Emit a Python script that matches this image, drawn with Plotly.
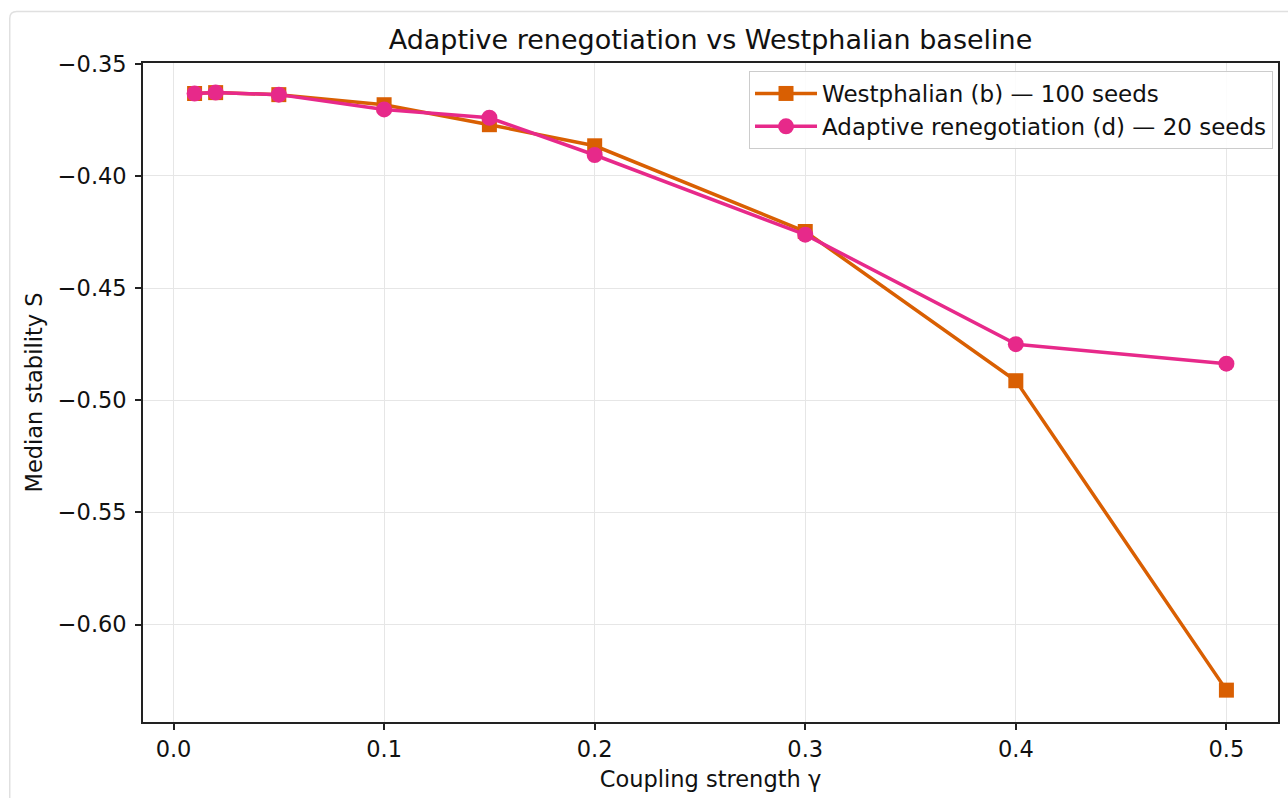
import plotly.graph_objects as go

# ---- data ----
gamma = [0.01, 0.02, 0.05, 0.10, 0.15, 0.20, 0.30, 0.40, 0.50]
westphalian = [-0.3633, -0.3629, -0.3638, -0.3683, -0.3772, -0.3866, -0.4248, -0.4913, -0.6292]
adaptive = [-0.3633, -0.3629, -0.3638, -0.3704, -0.3741, -0.3907, -0.4262, -0.4750, -0.4837]

series_names = ["Westphalian (b) \u2014 100 seeds", "Adaptive renegotiation (d) \u2014 20 seeds"]

x_tickvals = [0.0, 0.1, 0.2, 0.3, 0.4, 0.5]
x_ticktext = ["0.0", "0.1", "0.2", "0.3", "0.4", "0.5"]
y_tickvals = [-0.35, -0.40, -0.45, -0.50, -0.55, -0.60]
y_ticktext = ["\u22120.35", "\u22120.40", "\u22120.45", "\u22120.50", "\u22120.55", "\u22120.60"]

title_text = "Adaptive renegotiation vs Westphalian baseline"
x_title = "Coupling strength \u03b3"
y_title = "Median stability S"

ORANGE = "#d95f02"
PINK = "#e7298a"
FONT = "DejaVu Sans"
FS = 22.5

W, H = 1288, 798
L, R, T, B = 143, 8, 63, 76
pw, ph = W - L - R, H - T - B

fig = go.Figure()
fig.add_trace(go.Scatter(
    x=gamma, y=westphalian, mode="lines+markers", name=series_names[0],
    line=dict(color=ORANGE, width=3.5),
    marker=dict(symbol="square", size=15, color=ORANGE, line=dict(width=0)),
))
fig.add_trace(go.Scatter(
    x=gamma, y=adaptive, mode="lines+markers", name=series_names[1],
    line=dict(color=PINK, width=3.5),
    marker=dict(symbol="circle", size=16, color=PINK, line=dict(width=0)),
))

# container border (rounded top-left corner), in paper coordinates
x0 = (9.5 - L) / pw
ytop = (H - B - 11.5) / ph
dx, dy = 7 / pw, 7 / ph
path = (f"M {x0},-0.5 L {x0},{ytop - dy} Q {x0},{ytop} {x0 + dx},{ytop} L 1.5,{ytop}")
fig.add_shape(type="path", path=path, xref="paper", yref="paper",
              line=dict(color="#e0e0e0", width=1.5), layer="below")

axis_common = dict(
    showline=True, linecolor="#222222", linewidth=1.6, mirror=True,
    ticks="outside", ticklen=6, tickwidth=1.5, tickcolor="#222222",
    showgrid=True, gridcolor="#e6e6e6", gridwidth=1.3, zeroline=False,
    tickfont=dict(family=FONT, size=FS, color="#111111"),
)

fig.update_xaxes(
    range=[-0.0145, 0.5245], tickvals=x_tickvals, ticktext=x_ticktext,
    title=dict(text=x_title, font=dict(family=FONT, size=FS, color="#111111"), standoff=10),
    **axis_common,
)
fig.update_yaxes(
    range=[-0.6434, -0.3497], tickvals=y_tickvals, ticktext=y_ticktext,
    ticklabelstandoff=4,
    title=dict(text=y_title, font=dict(family=FONT, size=FS, color="#111111"), standoff=9),
    **axis_common,
)

fig.update_layout(
    width=W, height=H,
    margin=dict(l=L, r=R, t=T, b=B, pad=0),
    paper_bgcolor="white", plot_bgcolor="white",
    font=dict(family=FONT, color="#111111"),
    title=dict(text=title_text, x=(711.5 - L) / pw, xref="paper", xanchor="center",
               y=1 - 40 / H, yref="container", yanchor="middle",
               font=dict(family=FONT, size=27, color="#111111")),
    legend=dict(
        x=(1275 - L) / pw, y=(H - B - 71) / ph, xanchor="right", yanchor="top",
        bgcolor="rgba(255,255,255,0.85)", bordercolor="#cccccc", borderwidth=1,
        font=dict(family=FONT, size=23, color="#111111"),
        itemwidth=62,
    ),
    showlegend=True,
)

fig.write_html("out.html", config={"displayModeBar": False},
               post_script="document.body.style.margin='0';document.body.style.overflow='hidden';")
